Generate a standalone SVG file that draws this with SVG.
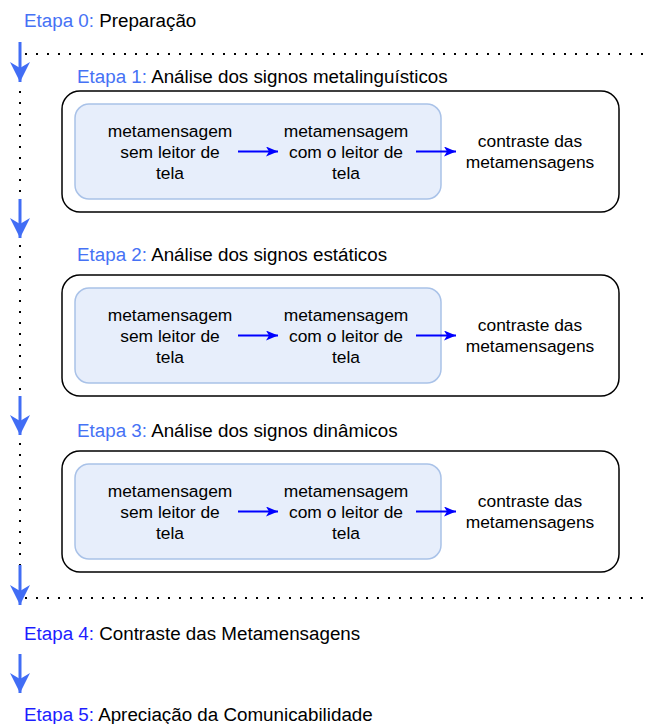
<svg xmlns="http://www.w3.org/2000/svg" width="652" height="724" viewBox="0 0 652 724">
<style>
.lbl{font-family:"Liberation Sans",Arial,sans-serif;font-size:18.8px;fill:#000}
.lt{fill:#4672F5}
.dk{fill:#1E1EFF}
.t{font-family:"Liberation Sans",Arial,sans-serif;font-size:17.4px;fill:#000;text-anchor:middle}
.outer{fill:#fff;stroke:#000;stroke-width:1.5}
.inner{fill:#E7EEFB;stroke:#A9C2E8;stroke-width:1.5}
.dot{fill:none;stroke:#000;stroke-width:2;stroke-dasharray:2 9}
.big{fill:none;stroke:#416DF5;stroke-width:3}
.sm{fill:none;stroke:#0000FF;stroke-width:2}
</style>
<defs>
<marker id="bh" viewBox="0 0 20 20" markerWidth="20" markerHeight="20" refX="20" refY="10" orient="auto" markerUnits="userSpaceOnUse"><path d="M0,0 L20,10 L0,20 L6,10 z" fill="#416DF5"/></marker>
<marker id="sh" viewBox="0 0 12 10" markerWidth="12" markerHeight="10" refX="12" refY="5" orient="auto" markerUnits="userSpaceOnUse"><path d="M0,0 L12,5 L0,10 L3,5 z" fill="#0000FF"/></marker>
</defs>
<g id="connectors">
<path class="dot" d="M25,54 H652"/>
<path class="dot" d="M20,58 V598"/>
<path class="dot" d="M25,598 H652"/>
<path class="big" d="M20,42 V82" marker-end="url(#bh)"/>
<path class="big" d="M20,199 V238" marker-end="url(#bh)"/>
<path class="big" d="M20,396 V435" marker-end="url(#bh)"/>
<path class="big" d="M20,565 V605" marker-end="url(#bh)"/>
<path class="big" d="M20,654 V693" marker-end="url(#bh)"/>
</g>
<g id="etapa0"><text class="lbl" x="24" y="26.6"><tspan class="lt">Etapa 0:</tspan> Preparação</text></g>
<g id="etapa1">
<text class="lbl" x="77" y="82.6"><tspan class="lt">Etapa 1:</tspan> Análise dos signos metalinguísticos</text>
<rect class="outer" x="62" y="91" width="557" height="121" rx="18"/>
<rect class="inner" x="75" y="104" width="366" height="95" rx="14"/>
<text class="t" x="170" y="136.7">metamensagem<tspan x="170" dy="20.9">sem leitor de</tspan><tspan x="170" dy="20.9">tela</tspan></text>
<text class="t" x="346" y="136.7">metamensagem<tspan x="346" dy="20.9">com o leitor de</tspan><tspan x="346" dy="20.9">tela</tspan></text>
<text class="t" x="530" y="147.1">contraste das<tspan x="530" dy="20.9">metamensagens</tspan></text>
<path class="sm" d="M238,151.5 H278" marker-end="url(#sh)"/>
<path class="sm" d="M416,151.5 H456" marker-end="url(#sh)"/>
</g>
<g id="etapa2">
<text class="lbl" x="77" y="260.6"><tspan class="lt">Etapa 2:</tspan> Análise dos signos estáticos</text>
<rect class="outer" x="62" y="275" width="557" height="121" rx="18"/>
<rect class="inner" x="75" y="288" width="366" height="95" rx="14"/>
<text class="t" x="170" y="320.7">metamensagem<tspan x="170" dy="20.9">sem leitor de</tspan><tspan x="170" dy="20.9">tela</tspan></text>
<text class="t" x="346" y="320.7">metamensagem<tspan x="346" dy="20.9">com o leitor de</tspan><tspan x="346" dy="20.9">tela</tspan></text>
<text class="t" x="530" y="331.1">contraste das<tspan x="530" dy="20.9">metamensagens</tspan></text>
<path class="sm" d="M238,335.5 H278" marker-end="url(#sh)"/>
<path class="sm" d="M416,335.5 H456" marker-end="url(#sh)"/>
</g>
<g id="etapa3">
<text class="lbl" x="77" y="436.6"><tspan class="lt">Etapa 3:</tspan> Análise dos signos dinâmicos</text>
<rect class="outer" x="62" y="451" width="557" height="121" rx="18"/>
<rect class="inner" x="75" y="464" width="366" height="95" rx="14"/>
<text class="t" x="170" y="496.7">metamensagem<tspan x="170" dy="20.9">sem leitor de</tspan><tspan x="170" dy="20.9">tela</tspan></text>
<text class="t" x="346" y="496.7">metamensagem<tspan x="346" dy="20.9">com o leitor de</tspan><tspan x="346" dy="20.9">tela</tspan></text>
<text class="t" x="530" y="507.1">contraste das<tspan x="530" dy="20.9">metamensagens</tspan></text>
<path class="sm" d="M238,511.5 H278" marker-end="url(#sh)"/>
<path class="sm" d="M416,511.5 H456" marker-end="url(#sh)"/>
</g>
<g id="etapa4"><text class="lbl" x="24" y="639.6"><tspan class="dk">Etapa 4:</tspan> Contraste das Metamensagens</text></g>
<g id="etapa5"><text class="lbl" x="24" y="720.6"><tspan class="dk">Etapa 5:</tspan> Apreciação da Comunicabilidade</text></g>
</svg>
